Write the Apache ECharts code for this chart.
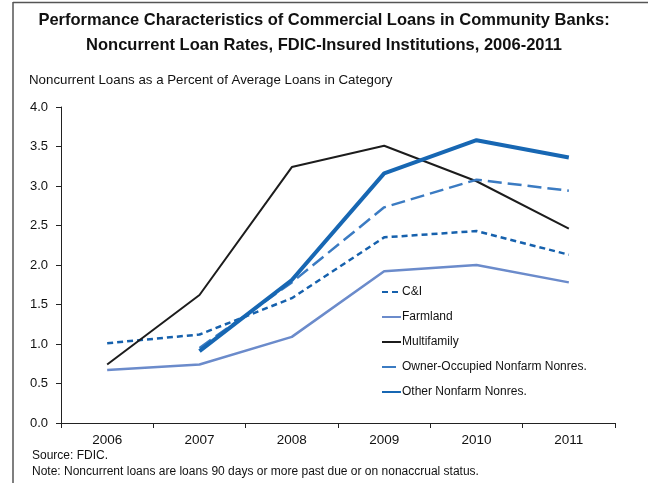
<!DOCTYPE html>
<html>
<head>
<meta charset="utf-8">
<script src="https://cdn.jsdelivr.net/npm/echarts@6/dist/echarts.min.js"></script>
<style>
html,body{margin:0;padding:0;background:#fff;}
#chart{width:648px;height:483px;}
</style>
</head>
<body>
<div id="chart"></div>
<script>
const years = ['2006','2007','2008','2009','2010','2011'];
const cAndI = [1.01, 1.12, 1.58, 2.35, 2.43, 2.13];
const farmland = [0.67, 0.74, 1.09, 1.92, 2.00, 1.78];
const multifamily = [0.74, 1.62, 3.24, 3.51, 3.06, 2.46];
const ownerOccupied = [null, 0.95, 1.78, 2.73, 3.08, 2.94];
const otherNonfarm = [null, 0.91, 1.81, 3.16, 3.58, 3.36];
const yTicks = [0, 0.5, 1.0, 1.5, 2.0, 2.5, 3.0, 3.5, 4.0];

const FONT = '"Liberation Sans", Arial, sans-serif';
const chart = echarts.init(document.getElementById('chart'));

function mk(name, data, color, width, type) {
  return {
    name: name, type: 'line', data: data, symbol: 'none', smooth: false,
    lineStyle: { color: color, width: width, type: type, cap: 'butt' },
    itemStyle: { color: color },
    emphasis: { disabled: true },
    z: 3
  };
}

chart.setOption({
  animation: false,
  backgroundColor: '#fff',
  textStyle: { fontFamily: FONT, color: '#111' },
  title: [{
    text: 'Performance Characteristics of Commercial Loans in Community Banks:',
    left: 'center', top: 12, padding: 0,
    textStyle: { fontFamily: FONT, fontSize: 16.5, fontWeight: 'bold', color: '#111' }
  }, {
    text: 'Noncurrent Loan Rates, FDIC-Insured Institutions, 2006-2011',
    left: 'center', top: 37, padding: 0,
    textStyle: { fontFamily: FONT, fontSize: 16.5, fontWeight: 'bold', color: '#111' }
  }, {
    text: 'Noncurrent Loans as a Percent of Average Loans in Category',
    left: 29, top: 74, padding: 0,
    textStyle: { fontFamily: FONT, fontSize: 13.3, fontWeight: 'normal', color: '#111' }
  }],
  grid: { left: 61, right: 33, top: 107, bottom: 60, containLabel: false },
  legend: {
    orient: 'vertical', left: 381, top: 286, padding: 0,
    itemWidth: 19, itemHeight: 10, itemGap: 13,
    itemStyle: { opacity: 0 },
    textStyle: { fontFamily: FONT, fontSize: 12, color: '#111', padding: [0,0,0,-4] },
    data: ['C&I', 'Farmland', 'Multifamily', 'Owner-Occupied Nonfarm Nonres.', 'Other Nonfarm Nonres.']
  },
  xAxis: {
    type: 'category', data: years, boundaryGap: true,
    axisLine: { lineStyle: { color: '#222', width: 1 } },
    axisTick: { show: true, length: 5, lineStyle: { color: '#222' } },
    axisLabel: { fontFamily: FONT, fontSize: 13.5, color: '#111', margin: 10 }
  },
  yAxis: {
    type: 'value', min: 0, max: 4, interval: 0.5,
    axisLine: { show: true, lineStyle: { color: '#222', width: 1 } },
    axisTick: { show: true, length: 5, lineStyle: { color: '#222' } },
    splitLine: { show: false },
    axisLabel: { fontFamily: FONT, fontSize: 13, color: '#111', margin: 13,
      formatter: function (v) { return v.toFixed(1); } }
  },
  graphic: [
    { type: 'line', shape: { x1: 13, y1: 2.5, x2: 648, y2: 2.5 }, style: { stroke: '#555', lineWidth: 1.5 } },
    { type: 'line', shape: { x1: 13, y1: 2, x2: 13, y2: 483 }, style: { stroke: '#555', lineWidth: 1.5 } },
    { type: 'text', left: 32, top: 450, style: { text: 'Source: FDIC.', font: '12px ' + FONT, fill: '#111' } },
    { type: 'text', left: 32, top: 466, style: { text: 'Note: Noncurrent loans are loans 90 days or more past due or on nonaccrual status.', font: '12px ' + FONT, fill: '#111' } }
  ],
  series: [
    mk('C&I', cAndI, '#1661AD', 2.5, [6, 4]),
    mk('Farmland', farmland, '#6B8BCB', 2.5, 'solid'),
    mk('Multifamily', multifamily, '#1c1c1c', 2, 'solid'),
    mk('Owner-Occupied Nonfarm Nonres.', ownerOccupied, '#3B7BC2', 2.5, [14, 6]),
    mk('Other Nonfarm Nonres.', otherNonfarm, '#1767B3', 4, 'solid')
  ]
});
</script>
</body>
</html>
